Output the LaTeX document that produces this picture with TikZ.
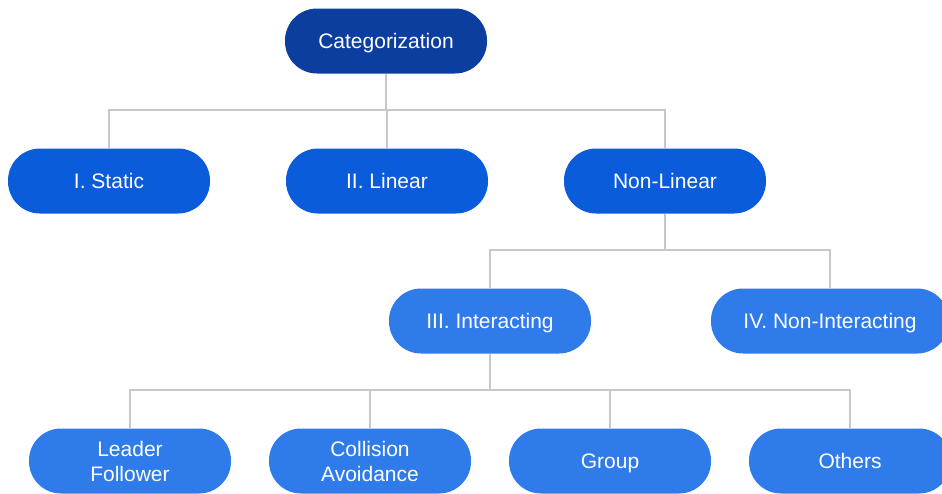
\documentclass[tikz,border=0pt]{standalone}
\usepackage{fontspec}
\setmainfont{Liberation Sans}
\definecolor{rootblue}{RGB}{12,62,160}
\definecolor{midblue}{RGB}{11,92,219}
\definecolor{leafblue}{RGB}{47,123,234}
\definecolor{linkgray}{RGB}{200,200,200}
\tikzset{
  pill/.style={rectangle, rounded corners=32pt, minimum width=202pt, minimum height=65pt,
    text=white, align=center, inner sep=0pt,
    font=\fontsize{21}{25}\selectfont},
  oneline/.style={text height=15pt, text depth=1pt},
  rootpill/.style={pill, oneline, fill=rootblue},
  midpill/.style={pill, oneline, fill=midblue},
  leafpill/.style={pill, fill=leafblue},
  leafone/.style={leafpill, oneline},
  link/.style={draw=linkgray, line width=1.6pt}
}
\begin{document}
\begin{tikzpicture}[x=1pt, y=-1pt]
\useasboundingbox (0,0) rectangle (942,493);
\clip (0,0) rectangle (942,493);

% branch points of the tree
\coordinate (j1) at (386,110);
\coordinate (j2) at (665,250);
\coordinate (j3) at (490,390);

% boxes
\node[rootpill] (cat) at (386,41) {Categorization};
\node[midpill] (static) at (109,181) {I. Static};
\node[midpill] (linear) at (387,181) {II. Linear};
\node[midpill] (nonlin) at (665,181) {Non-Linear};
\node[leafone] (inter) at (490,321) {III. Interacting};
\node[leafone, minimum width=238pt] (noninter) at (830,321) {IV. Non-Interacting};
\node[leafpill] (leader) at (130,461) {Leader\\Follower};
\node[leafpill] (coll) at (370,461) {Collision\\Avoidance};
\node[leafone] (group) at (610,461) {Group};
\node[leafone] (others) at (850,461) {Others};

% elbow links between the levels
\draw[link] (cat.south) -- (j1);
\draw[link] (static.north) |- (j1) -| (nonlin.north);
\draw[link] (linear.north) -- (linear.north |- j1);

\draw[link] (nonlin.south) -- (j2);
\draw[link] (inter.north) |- (j2) -| (noninter.north);

\draw[link] (inter.south) -- (j3);
\draw[link] (leader.north) |- (j3) -| (others.north);
\draw[link] (coll.north) -- (coll.north |- j3);
\draw[link] (group.north) -- (group.north |- j3);
\end{tikzpicture}
\end{document}
